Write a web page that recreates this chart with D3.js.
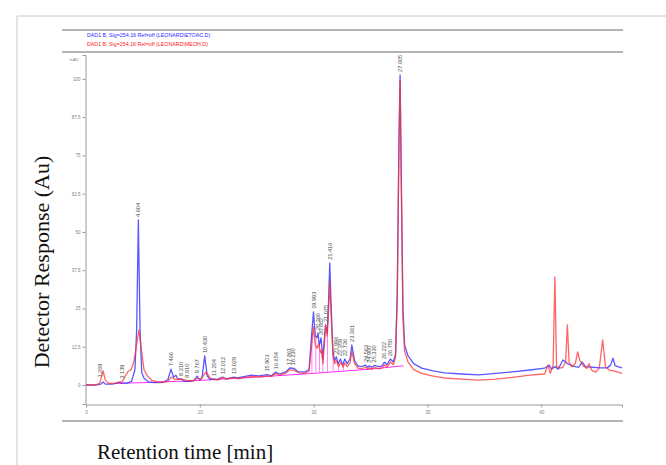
<!DOCTYPE html>
<html>
<head>
<meta charset="utf-8">
<script src="https://cdn.jsdelivr.net/npm/d3@7/dist/d3.min.js"></script>
<style>
  body { margin: 0; background: #fff; }
  svg { display: block; }
</style>
</head>
<body>
<svg width="666" height="465"></svg>
<script>
/*----------- Data (time in min, response) ----------- */
const legendNames = [
  "DAD1 B, Sig=254,16 Ref=off (LEONARD\\ETOAC.D)",
  "DAD1 B, Sig=254,16 Ref=off (LEONARD\\MEOH.D)",
];

// ETOAC trace (blue)
const etoac = [
  [0,0],[0.8,0],[1.3,0.3],[1.5,1.0],[1.7,0.3],[2.3,0.3],[2.7,0.6],[2.9,1.0],[3.1,0.6],[3.6,0.6],
  [4.0,1.2],[4.3,5],[4.45,18],[4.6,53.9],[4.75,18],[4.9,4],[5.1,2.2],[5.5,1.0],[6.0,0.8],[6.8,0.9],
  [7.2,1.8],[7.47,5.2],[7.7,2.5],[7.9,3.2],[8.1,1.8],[8.4,2.0],[8.6,1.2],[9.2,1.2],[9.5,1.6],[9.77,2.9],
  [10.0,1.6],[10.2,2.5],[10.43,9.5],[10.65,3.0],[10.9,1.8],[11.2,2.0],[11.5,1.8],[12.0,2.6],[12.3,2.0],
  [13.0,2.6],[13.3,2.3],[14,2.8],[14.5,3.2],[15.2,3.0],[15.9,3.4],[16.3,3.0],[16.65,4.2],[17.0,3.6],
  [17.6,4.4],[17.9,5.6],[18.3,5.4],[18.6,4.4],[19.2,4.2],[19.6,5.0],[19.8,15],[19.99,23.9],[20.15,16],
  [20.3,15.5],[20.38,17],[20.5,13],[20.66,15.4],[20.8,8.5],[20.95,15],[21.05,19.6],[21.2,17],[21.32,28],
  [21.42,39.9],[21.55,25],[21.7,11],[21.85,8],[22.0,9.2],[22.15,7],[22.36,8.5],[22.55,6.5],[22.74,8.5],
  [22.95,7],[23.2,8.5],[23.36,13.1],[23.6,8],[23.9,6.2],[24.2,6],[24.56,6.5],[24.75,5.8],[24.9,6.3],
  [25.1,5.8],[25.33,6.4],[25.7,6],[26.0,6.2],[26.22,7.5],[26.45,6.6],[26.75,8.5],[27.0,7.5],[27.2,10],
  [27.35,30],[27.5,80],[27.6,101.3],[27.7,70],[27.85,25],[28.0,13],[28.3,9.5],[28.8,7],[29.5,5.5],
  [30.5,4.6],[31.5,4.0],[33,3.6],[34.5,3.3],[36,3.8],[37.5,4.3],[39,4.9],[40.3,5.5],[40.7,6.5],
  [40.9,5.2],[41.2,6.0],[41.5,5.2],[41.9,8.2],[42.3,7.0],[42.8,6.2],[43.3,5.8],[43.6,7.5],[43.9,6.0],
  [44.5,5.8],[45.2,5.6],[45.8,5.6],[46.1,6.5],[46.3,8.8],[46.5,6.3],[46.8,5.9],[47.1,5.6],
];

// MEOH trace (red)
const meoh = [
  [0,0],[0.8,0],[1.2,0.5],[1.5,4.6],[1.7,1.6],[2.0,0.5],[2.5,0.6],[2.9,0.8],[3.2,1.2],[3.5,3.2],
  [3.7,4.5],[3.95,4.9],[4.2,7.5],[4.4,12],[4.65,18],[4.85,12],[5.1,5],[5.4,3],[5.8,1.5],[6.5,0.8],
  [7.2,1.2],[7.5,2.6],[7.8,1.8],[8.3,2.0],[8.9,1.4],[9.5,1.4],[9.8,2.3],[10.1,1.8],[10.55,4.3],
  [10.9,2.3],[11.2,1.8],[11.6,1.7],[12.0,2.4],[12.4,1.9],[13.0,2.4],[13.4,2.0],[14,2.5],[14.6,2.8],
  [15.3,2.6],[15.9,3.0],[16.3,2.8],[16.65,3.8],[17.0,3.2],[17.6,4.0],[17.9,5.0],[18.3,4.8],[18.7,4.0],
  [19.2,3.8],[19.6,4.5],[19.8,12],[19.99,19.0],[20.15,13],[20.3,12],[20.45,13.5],[20.6,10.5],
  [20.7,11.5],[20.82,7],[20.95,14],[21.05,19.6],[21.2,16],[21.32,25],[21.42,33.7],[21.55,22],
  [21.7,9.5],[21.85,7],[22.0,8],[22.2,6],[22.4,7.5],[22.6,5.8],[22.75,7.2],[22.95,6],[23.2,7.2],
  [23.36,11],[23.6,7],[23.9,5.5],[24.2,5.3],[24.56,5.8],[24.75,5.2],[24.9,5.6],[25.1,5.1],[25.33,5.8],
  [25.7,5.3],[26.0,5.5],[26.22,6.6],[26.45,5.8],[26.75,7.5],[27.0,6.6],[27.2,9],[27.35,28],[27.5,77],
  [27.6,99.5],[27.7,67],[27.85,22],[28.0,11],[28.3,7.5],[28.8,5],[29.5,3.8],[30.5,2.9],[31.5,2.3],
  [33,1.9],[34.5,1.6],[36,1.9],[37.5,2.5],[39,3.2],[40.3,3.6],[40.6,6.5],[40.8,3.8],[41.05,6.5],
  [41.2,35.3],[41.35,6],[41.65,5.5],[41.9,5.8],[42.15,7.5],[42.3,19.6],[42.45,7.5],[42.7,6.0],
  [43.0,7.0],[43.2,10.8],[43.4,8.0],[43.7,6.2],[44.0,5.4],[44.2,7.0],[44.45,4.8],[44.8,4.2],
  [45.1,5.5],[45.4,14.7],[45.65,6.0],[46.0,4.8],[46.4,4.6],[47.1,3.8],
];

// integration baseline (magenta)
const baseline = [[2.6,0.5],[6,0.9],[10,1.5],[15,2.6],[20,3.8],[25,5.2],[27.9,6.3]];
// drop lines of the integration
const dropTimes = [19.85, 20.2, 20.52, 20.82, 21.22, 21.72, 22.2, 22.6];

// peak labels (retention times)
const peakTimes = [
  1.269, 3.139, 4.604, 7.466, 8.310, 8.910, 9.767, 10.430, 11.204, 12.012, 13.029,
  15.901, 16.654, 17.861, 18.230, 19.993, 20.360, 20.662, 21.075, 21.416, 21.996,
  22.359, 22.736, 23.361, 24.563, 24.900, 25.330, 26.222, 26.750, 27.605,
];

const yTickValues = [0, 12.5, 25, 37.5, 50, 62.5, 75, 87.5, 100];
const xTickValues = [0, 10, 20, 30, 40];

/*----------- Scales ----------- */
const x = d3.scaleLinear().domain([0, 47.1]).range([86, 622]);
const y = d3.scaleLinear().domain([-6.2, 107.8]).range([404, 55]);

const svg = d3.select("svg");

// outer frame
svg.append("path")
  .attr("d", "M17,465 V16 H666")
  .attr("fill", "none")
  .attr("stroke", "#c8c8c8")
  .attr("stroke-width", 1);

// gray bands of the report
[30, 52, 421].forEach((yy) => {
  svg.append("line")
    .attr("x1", 62).attr("x2", 623)
    .attr("y1", yy).attr("y2", yy)
    .attr("stroke", "#b4b4b4")
    .attr("stroke-width", 2.2);
});

// legend
svg.selectAll(".leg")
  .data(legendNames)
  .enter()
  .append("text")
  .attr("x", 87)
  .attr("y", (d, i) => 37 + i * 9)
  .attr("font-family", "Liberation Sans, Arial, sans-serif")
  .attr("font-size", 5.3)
  .attr("fill", (d, i) => (i === 0 ? "#2a2aff" : "#ff2020"))
  .text((d) => d);

/*----------- Axes ----------- */
const axisColor = "#9a9a9a";
const yAxis = d3.axisLeft(y)
  .tickValues(yTickValues)
  .tickSize(3)
  .tickFormat((d) => d3.format("~g")(d));
const yMinor = d3.axisLeft(y)
  .tickValues(d3.range(-5, 107.6, 2.5))
  .tickSize(1.8)
  .tickFormat("");

const gy = svg.append("g").attr("transform", "translate(85.5,0)");
gy.call(yMinor);
gy.call(yAxis);

const xAxis = d3.axisBottom(x).tickValues(xTickValues).tickSize(3);
const xMinor = d3.axisBottom(x)
  .tickValues(d3.range(0, 47.1, 2))
  .tickSize(1.8)
  .tickFormat("");
const gx = svg.append("g").attr("transform", "translate(0,404.5)");
gx.call(xMinor);
gx.call(xAxis);

[gx, gy].forEach((g) => {
  g.selectAll("path").attr("stroke", axisColor);
  g.selectAll("line").attr("stroke", axisColor);
  g.selectAll("text")
    .attr("fill", "#808080")
    .attr("font-size", 4.5)
    .attr("font-family", "Liberation Sans, Arial, sans-serif");
});
gy.selectAll("text").attr("x", -5);
gx.selectAll("text").attr("y", 6);

svg.append("text")
  .attr("x", 74).attr("y", 61)
  .attr("font-size", 4)
  .attr("fill", "#808080")
  .attr("text-anchor", "middle")
  .attr("font-family", "Liberation Sans, Arial, sans-serif")
  .text("mAU");

/*----------- Traces ----------- */
const line = d3.line()
  .x((d) => x(d[0]))
  .y((d) => y(d[1]));

function valueAt(series, t) {
  const i = d3.bisector((d) => d[0]).left(series, t);
  if (i <= 0) return series[0][1];
  if (i >= series.length) return series[series.length - 1][1];
  const a = series[i - 1], b = series[i];
  return a[1] + ((t - a[0]) / (b[0] - a[0])) * (b[1] - a[1]);
}

svg.append("path")
  .datum(baseline)
  .attr("fill", "none")
  .attr("stroke", "#ff30ff")
  .attr("stroke-width", 1)
  .attr("d", line);

svg.selectAll(".drop")
  .data(dropTimes)
  .enter()
  .append("line")
  .attr("x1", (d) => x(d)).attr("x2", (d) => x(d))
  .attr("y1", (d) => y(valueAt(baseline, d)))
  .attr("y2", (d) => y(valueAt(etoac, d)))
  .attr("stroke", "#ff60ff")
  .attr("stroke-width", 0.8);

svg.append("path")
  .datum(etoac)
  .attr("fill", "none")
  .attr("stroke", "#3c3cff")
  .attr("stroke-opacity", 0.85)
  .attr("stroke-width", 1.3)
  .attr("stroke-linejoin", "round")
  .attr("d", line);

svg.append("path")
  .datum(meoh)
  .attr("fill", "none")
  .attr("stroke", "#ff3030")
  .attr("stroke-opacity", 0.75)
  .attr("stroke-width", 1.3)
  .attr("stroke-linejoin", "round")
  .attr("d", line);

/*----------- Peak labels ----------- */
function topAt(t) {
  let m = Math.max(valueAt(etoac, t), valueAt(meoh, t));
  [etoac, meoh].forEach((s) => {
    s.forEach((p) => {
      if (Math.abs(p[0] - t) < 0.06 && p[1] > m) m = p[1];
    });
  });
  return m;
}

svg.selectAll(".peak")
  .data(peakTimes)
  .enter()
  .append("text")
  .attr("transform", (d) => "translate(" + (x(d) + 2) + "," + (y(topAt(d)) - 3) + ") rotate(-90)")
  .attr("font-family", "Liberation Sans, Arial, sans-serif")
  .attr("font-size", 5.6)
  .attr("fill", "#4a4a4a")
  .text((d) => d.toFixed(3));

/*----------- Titles ----------- */
svg.append("text")
  .attr("transform", "translate(49,262) rotate(-90)")
  .attr("text-anchor", "middle")
  .attr("font-family", "Liberation Serif, Times New Roman, serif")
  .attr("font-size", 22)
  .attr("fill", "#111")
  .text("Detector Response (Au)");

svg.append("text")
  .attr("x", 97)
  .attr("y", 459)
  .attr("font-family", "Liberation Serif, Times New Roman, serif")
  .attr("font-size", 21)
  .attr("fill", "#111")
  .text("Retention time [min]");
</script>
</body>
</html>
